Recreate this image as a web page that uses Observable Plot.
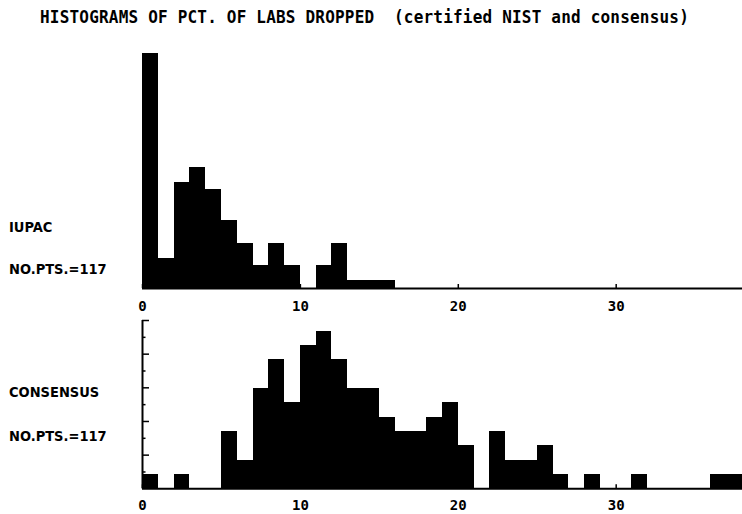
<!DOCTYPE html>
<html>
<head>
<meta charset="utf-8">
<script src="https://cdn.jsdelivr.net/npm/d3@7"></script>
<script src="https://cdn.jsdelivr.net/npm/@observablehq/plot@0.6"></script>
<style>
  html, body { margin: 0; padding: 0; background: #fff; }
  #chart { position: relative; width: 742px; height: 514px; overflow: hidden; }
  .title { position: absolute; left: 40px; top: 6px; font-family: "DejaVu Sans Mono", monospace;
           font-weight: bold; font-size: 16px; letter-spacing: 0.2px; color: #000; white-space: pre;
           transform: scaleY(1.1); transform-origin: 0 0; }
  .lab { position: absolute; left: 9px; font-family: "DejaVu Sans Condensed", "DejaVu Sans", sans-serif;
         font-weight: bold; font-size: 14.5px; color: #000; white-space: pre; }
  .panel { position: absolute; left: 0; }
</style>
</head>
<body>
<div id="chart"></div>
<script>
// Percentage of labs dropped, binned in 1-percent steps starting at 0
const binStarts = d3.range(0, 38);
const iupacCounts = [31, 4, 14, 16, 13, 9, 6, 3, 6, 3, 0, 3, 6, 1, 1, 1, 0, 0, 0, 0,
                     0, 0, 0, 0, 0, 0, 0, 0, 0, 0, 0, 0, 0, 0, 0, 0, 0, 0];
const consensusCounts = [1, 0, 1, 0, 0, 4, 2, 7, 9, 6, 10, 11, 9, 7, 7, 5, 4, 4, 5, 6,
                         3, 0, 4, 2, 2, 3, 1, 0, 1, 0, 0, 1, 0, 0, 0, 0, 1, 1];
const xTickValues = [0, 10, 20, 30];
const panelNames = ["IUPAC", "CONSENSUS"];
const nPoints = [117, 117];
const titleText = "HISTOGRAMS OF PCT. OF LABS DROPPED  (certified NIST and consensus)";

const xDomain = [0, 38];
const tickFont = "DejaVu Sans Mono, monospace";

function bins(counts) {
  return binStarts.map((s, i) => ({x1: s, x2: s + 1, n: counts[i]}));
}

const chart = document.getElementById("chart");

const titleDiv = document.createElement("div");
titleDiv.className = "title";
titleDiv.textContent = titleText;
chart.appendChild(titleDiv);

// Upper panel: IUPAC values, no vertical axis
const upperPanel = Plot.plot({
  width: 742, height: 320,
  marginLeft: 142, marginRight: 0, marginTop: 53, marginBottom: 32,
  x: {domain: xDomain, axis: null},
  y: {domain: [0, 31], axis: null},
  marks: [
    Plot.rectY(bins(iupacCounts), {x1: "x1", x2: "x2", y: "n", fill: "#000", shapeRendering: "crispEdges"}),
    Plot.ruleY([0], {stroke: "#000", strokeWidth: 2}),
    Plot.ruleX(xTickValues, {x: d => d, y1: 0, y2: 0, insetBottom: 4, stroke: "#000", strokeWidth: 1.5}),
    Plot.text(xTickValues, {x: d => d, y: 0, dy: 18, text: d => String(d), fontFamily: tickFont, fontWeight: "bold", fontSize: 14, fill: "#000"})
  ]
});
upperPanel.classList.add("panel");
upperPanel.style.top = "0px";
chart.appendChild(upperPanel);

// Lower panel: consensus values, with a bracketed count axis of ten divisions
const yMaxLow = 11.74;
const yTicks = d3.range(0, 11).map(i => i * yMaxLow / 10);
const majorTicks = yTicks.filter((d, i) => i > 0 && i % 2 === 0);
const minorTicks = yTicks.filter((d, i) => i % 2 === 1);

const lowerPanel = Plot.plot({
  width: 742, height: 214,
  marginLeft: 142, marginRight: 0, marginTop: 20, marginBottom: 25.7,
  x: {domain: xDomain, axis: null},
  y: {domain: [0, yMaxLow], axis: null},
  marks: [
    Plot.rectY(bins(consensusCounts), {x1: "x1", x2: "x2", y: "n", fill: "#000", shapeRendering: "crispEdges"}),
    Plot.ruleY([0], {stroke: "#000", strokeWidth: 2}),
    Plot.ruleX([0], {y1: 0, y2: yMaxLow, stroke: "#000", strokeWidth: 2}),
    Plot.ruleY(majorTicks, {y: d => d, x1: 0, x2: 0, insetRight: -7, stroke: "#000", strokeWidth: 1.5}),
    Plot.ruleY(minorTicks, {y: d => d, x1: 0, x2: 0, insetRight: -3.5, stroke: "#000", strokeWidth: 1.5}),
    Plot.ruleX(xTickValues, {x: d => d, y1: 0, y2: 0, insetBottom: 4, stroke: "#000", strokeWidth: 1.5}),
    Plot.text(xTickValues, {x: d => d, y: 0, dy: 17, text: d => String(d), fontFamily: tickFont, fontWeight: "bold", fontSize: 14, fill: "#000"})
  ]
});
lowerPanel.classList.add("panel");
lowerPanel.style.top = "300px";
chart.appendChild(lowerPanel);

// Panel labels in the left margin
const labelTops = [[219, 261], [384, 428]];
panelNames.forEach((name, i) => {
  const a = document.createElement("div");
  a.className = "lab";
  a.style.top = labelTops[i][0] + "px";
  a.textContent = name;
  chart.appendChild(a);
  const b = document.createElement("div");
  b.className = "lab";
  b.style.top = labelTops[i][1] + "px";
  b.textContent = "NO.PTS.=" + nPoints[i];
  chart.appendChild(b);
});
</script>
</body>
</html>
